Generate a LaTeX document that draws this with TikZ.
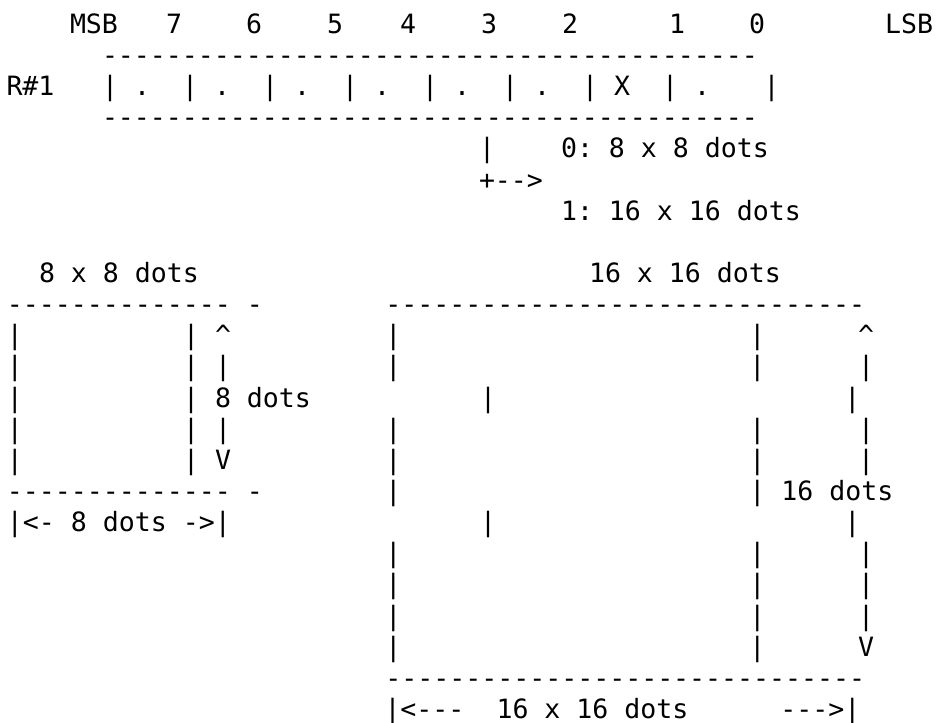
\documentclass[tikz,border=0pt]{standalone}
\usepackage{fontspec}
\newfontfamily\asciimono{DejaVu Sans Mono}
\newcommand\asciifont{\asciimono\fontsize{19.93pt}{24pt}\selectfont\frenchspacing}
\newcommand\dashrun[1]{\foreach\dd in {1,...,#1}{-\kern0pt}}
\begin{document}
\begin{tikzpicture}[x=0.75pt,y=-0.75pt,
  txt/.style={anchor=base west,inner sep=0pt,outer sep=0pt,font=\asciifont},
  declare function={by(\l)=33.3+31.15*(\l-1);}]
\fill[white] (0,0) rectangle (940,723);
\useasboundingbox (0,0) rectangle (940,723);
% line 1
\node[txt] (msb) at (70,{by(1)}) {MSB};
\node[txt] (d7) at (166,{by(1)}) {7};
\node[txt] (d6) at (246,{by(1)}) {6};
\node[txt] (d5) at (327,{by(1)}) {5};
\node[txt] (d4) at (400,{by(1)}) {4};
\node[txt] (d3) at (481,{by(1)}) {3};
\node[txt] (d2) at (562,{by(1)}) {2};
\node[txt] (d1) at (669,{by(1)}) {1};
\node[txt] (d0) at (749,{by(1)}) {0};
\node[txt] (lsb) at (885,{by(1)}) {LSB};
% register
\node[txt] (topdash) at (102,{by(2)}) {\dashrun{41}};
\node[txt] (reg) at (6.5,{by(3)}) {R\#1};
\foreach \k/\m in {0/.,1/.,2/.,3/.,4/.,5/.,6/X,7/.}{
  \node[txt] (bar\k) at ({102+80*\k},{by(3)}) {|};
  \node[txt] (bit\k) at ({134+80*\k},{by(3)}) {\m};
}
\node[txt] (barend) at (763.7,{by(3)}) {|};
\node[txt] (botdash) at (102,{by(4)}) {\dashrun{41}};
% bit meaning
\node[txt] (pipe) at (479,{by(5)}) {|};
\node[txt] (opt0) at (561,{by(5)}) {0: 8 x 8 dots};
\node[txt] (arrow) at (479,{by(6)}) {+-\kern0pt->};
\node[txt] (opt1) at (561,{by(7)}) {1: 16 x 16 dots};
% titles
\node[txt] (t8) at (39,{by(9)}) {8 x 8 dots};
\node[txt] (t16) at (589,{by(9)}) {16 x 16 dots};
% 8x8 box
\node[txt] (ltop) at (7,{by(10)}) {\dashrun{14}\ -};
\foreach \l/\t in {11/\textasciicircum,12/|,13/8 dots,14/|,15/V}{
  \node[txt] (la\l) at (7,{by(\l)}) {|};
  \node[txt] (lb\l) at (183,{by(\l)}) {|};
  \node[txt] (lc\l) at (215,{by(\l)}) {\t};
}
\node[txt] (lbot) at (7,{by(16)}) {\dashrun{14}\ -};
\node[txt] (lwidth) at (7,{by(17)}) {|<- 8 dots ->|};
% 16x16 box
\node[txt] (rtop) at (385.3,{by(10)}) {\dashrun{30}};
\foreach \l/\t in {11/\textasciicircum,12/|,14/|,15/|,18/|,19/|,20/|,21/V}{
  \node[txt] (ra\l) at (385.3,{by(\l)}) {|};
  \node[txt] (rb\l) at (749.3,{by(\l)}) {|};
  \node[txt] (rc\l) at (858,{by(\l)}) {\t};
}
\foreach \l in {13,17}{
  \node[txt] (rs\l) at (480.1,{by(\l)}) {|};
  \node[txt] (rt\l) at (844.3,{by(\l)}) {|};
}
\node[txt] (ra16) at (385.3,{by(16)}) {|};
\node[txt] (rb16) at (749.3,{by(16)}) {| 16 dots};
\node[txt] (rbot) at (385.3,{by(22)}) {\dashrun{30}};
\node[txt] (rw1) at (384.5,{by(23)}) {|<-\kern0pt-\kern0pt-};
\node[txt] (rw2) at (496.5,{by(23)}) {16 x 16 dots};
\node[txt] (rw3) at (780.4,{by(23)}) {-\kern0pt-\kern0pt->|};
\end{tikzpicture}
\end{document}
